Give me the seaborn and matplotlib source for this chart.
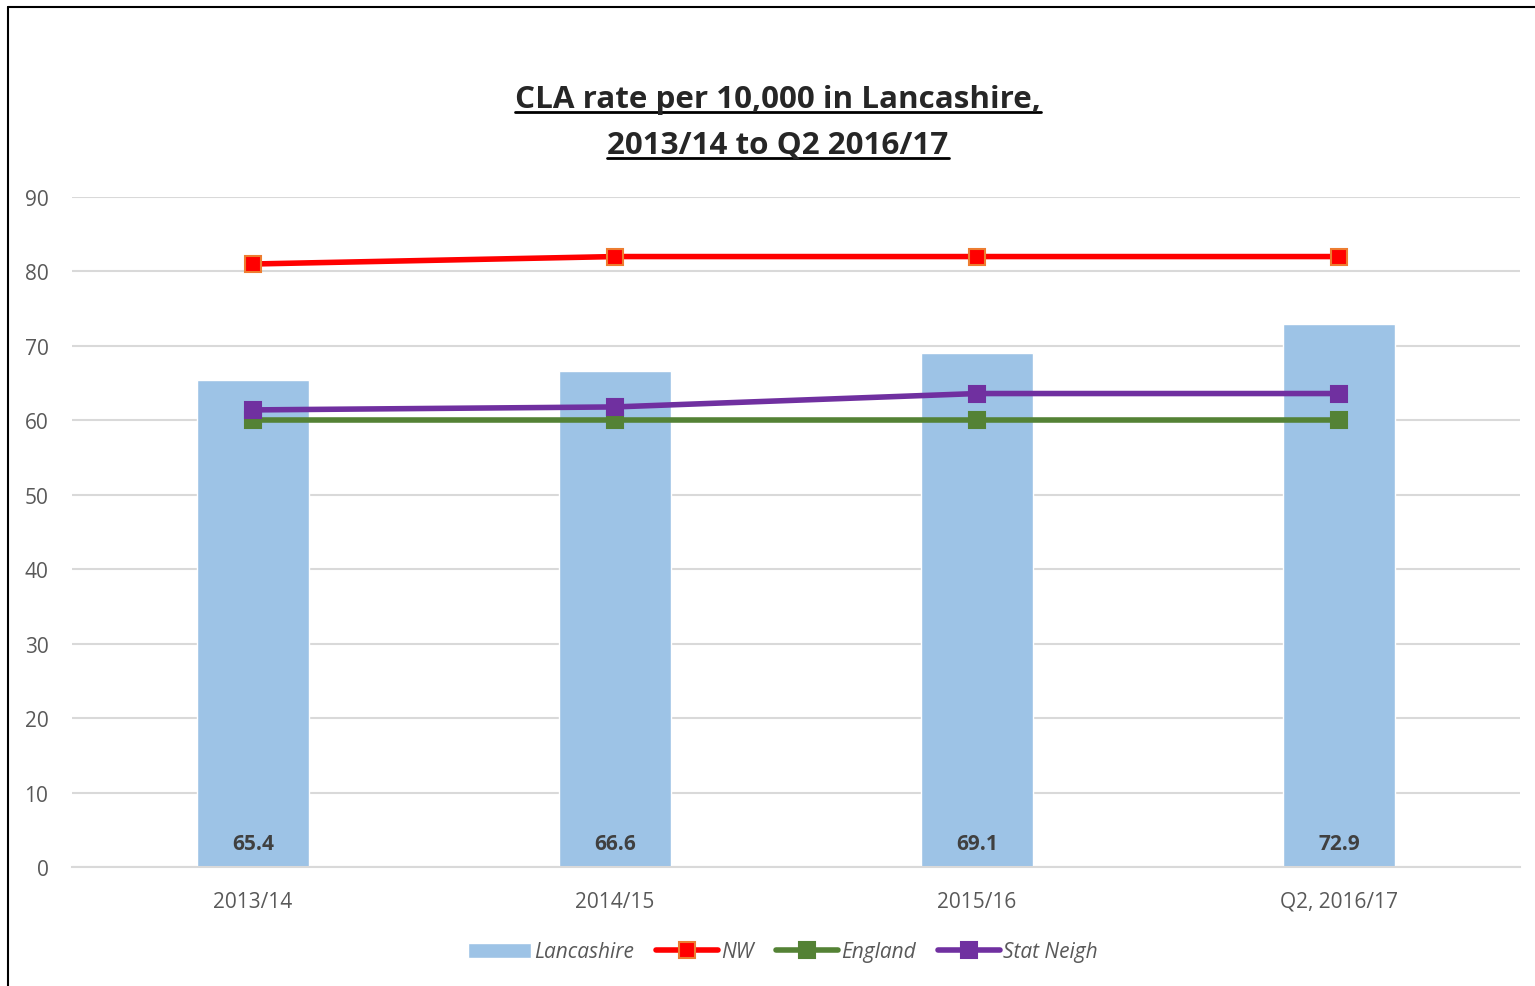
import pandas as pd
import seaborn as sns
import matplotlib.pyplot as plt
from matplotlib.lines import Line2D
from matplotlib.patches import Patch

# %% data
periods = ["2013/14", "2014/15", "2015/16", "Q2, 2016/17"]
lancashire = [65.4, 66.6, 69.1, 72.9]
nw = [81.0, 82.0, 82.0, 82.0]
england = [60.0, 60.0, 60.0, 60.0]
stat_neigh = [61.4, 61.8, 63.6, 63.6]

bar_col = "#9DC3E6"
lines = [
    ("NW", nw, "#FF0000", "#ED7D31"),
    ("England", england, "#548235", "#548235"),
    ("Stat Neigh", stat_neigh, "#7030A0", "#7030A0"),
]

# %% plot
sns.set_style("white")
plt.rcParams["font.family"] = ["Open Sans", "DejaVu Sans"]
grey = "#595959"

fig = plt.figure(figsize=(15.35, 9.87), dpi=100)
ax = fig.add_axes([72 / 1535, 1 - 868 / 987, (1520 - 72) / 1535, (868 - 198) / 987])

df = pd.DataFrame({"period": periods, "Lancashire": lancashire})
sns.barplot(data=df, x="period", y="Lancashire", color=bar_col, width=0.31,
            saturation=1, ax=ax, zorder=2)

for name, vals, col, edge in lines:
    d = pd.DataFrame({"x": range(len(periods)), "y": vals})
    sns.lineplot(data=d, x="x", y="y", color=col, linewidth=4, marker="s",
                 markersize=11, markeredgecolor=edge, markeredgewidth=1.5,
                 ax=ax, zorder=3)

for i, v in enumerate(lancashire):
    ax.text(i, 3.1, f"{v:.1f}", ha="center", va="center", fontsize=15,
            fontweight="bold", color="#404040", zorder=4)

ax.set_xlim(-0.5, 3.5)
ax.set_ylim(0, 90)
ax.set_yticks(range(0, 91, 10))
ax.yaxis.grid(True, color="#D9D9D9", linewidth=1.5, zorder=0)
ax.set_axisbelow(True)
for s in ["top", "right", "left"]:
    ax.spines[s].set_visible(False)
ax.spines["bottom"].set_color("#D9D9D9")
ax.spines["bottom"].set_linewidth(1.5)
ax.set_xlabel("")
ax.set_ylabel("")
ax.set_xticks(range(len(periods)))
ax.set_xticklabels(periods)
ax.tick_params(axis="both", length=0, labelsize=15, labelcolor=grey)
ax.tick_params(axis="y", pad=17)
ax.tick_params(axis="x", pad=17)

# title with underline
t1 = fig.text(778 / 1535, 1 - 100 / 987, "CLA rate per 10,000 in Lancashire,",
              ha="center", va="center", fontsize=22.6, fontweight="bold")
t2 = fig.text(778 / 1535, 1 - 146 / 987, "2013/14 to Q2 2016/17",
              ha="center", va="center", fontsize=22.6, fontweight="bold")
fig.canvas.draw()
r = fig.canvas.get_renderer()
for t in (t1, t2):
    bb = t.get_window_extent(r).transformed(fig.transFigure.inverted())
    y = bb.y0 + 0.002
    fig.add_artist(Line2D([bb.x0, bb.x1], [y, y], color="black", linewidth=2,
                          transform=fig.transFigure))

# legend
handles = [Patch(facecolor=bar_col, label="Lancashire")]
for name, vals, col, edge in lines:
    handles.append(Line2D([], [], color=col, linewidth=4, marker="s", markersize=11,
                          markeredgecolor=edge, markeredgewidth=1.5, label=name))
leg = fig.legend(handles=handles, loc="center", bbox_to_anchor=(783 / 1535, 1 - 953 / 987),
                 ncol=4, frameon=False, handlelength=3.0, handletextpad=0.15,
                 columnspacing=1.05, prop={"size": 15, "style": "italic"})
for txt in leg.get_texts():
    txt.set_color(grey)

# outer frame
fig.add_artist(Line2D([8 / 1535, 8 / 1535], [0, 1 - 8 / 987], color="black",
                      linewidth=1.5, transform=fig.transFigure))
fig.add_artist(Line2D([8 / 1535, 1], [1 - 8 / 987, 1 - 8 / 987], color="black",
                      linewidth=1.5, transform=fig.transFigure))

fig.savefig("out.png", dpi=100)
